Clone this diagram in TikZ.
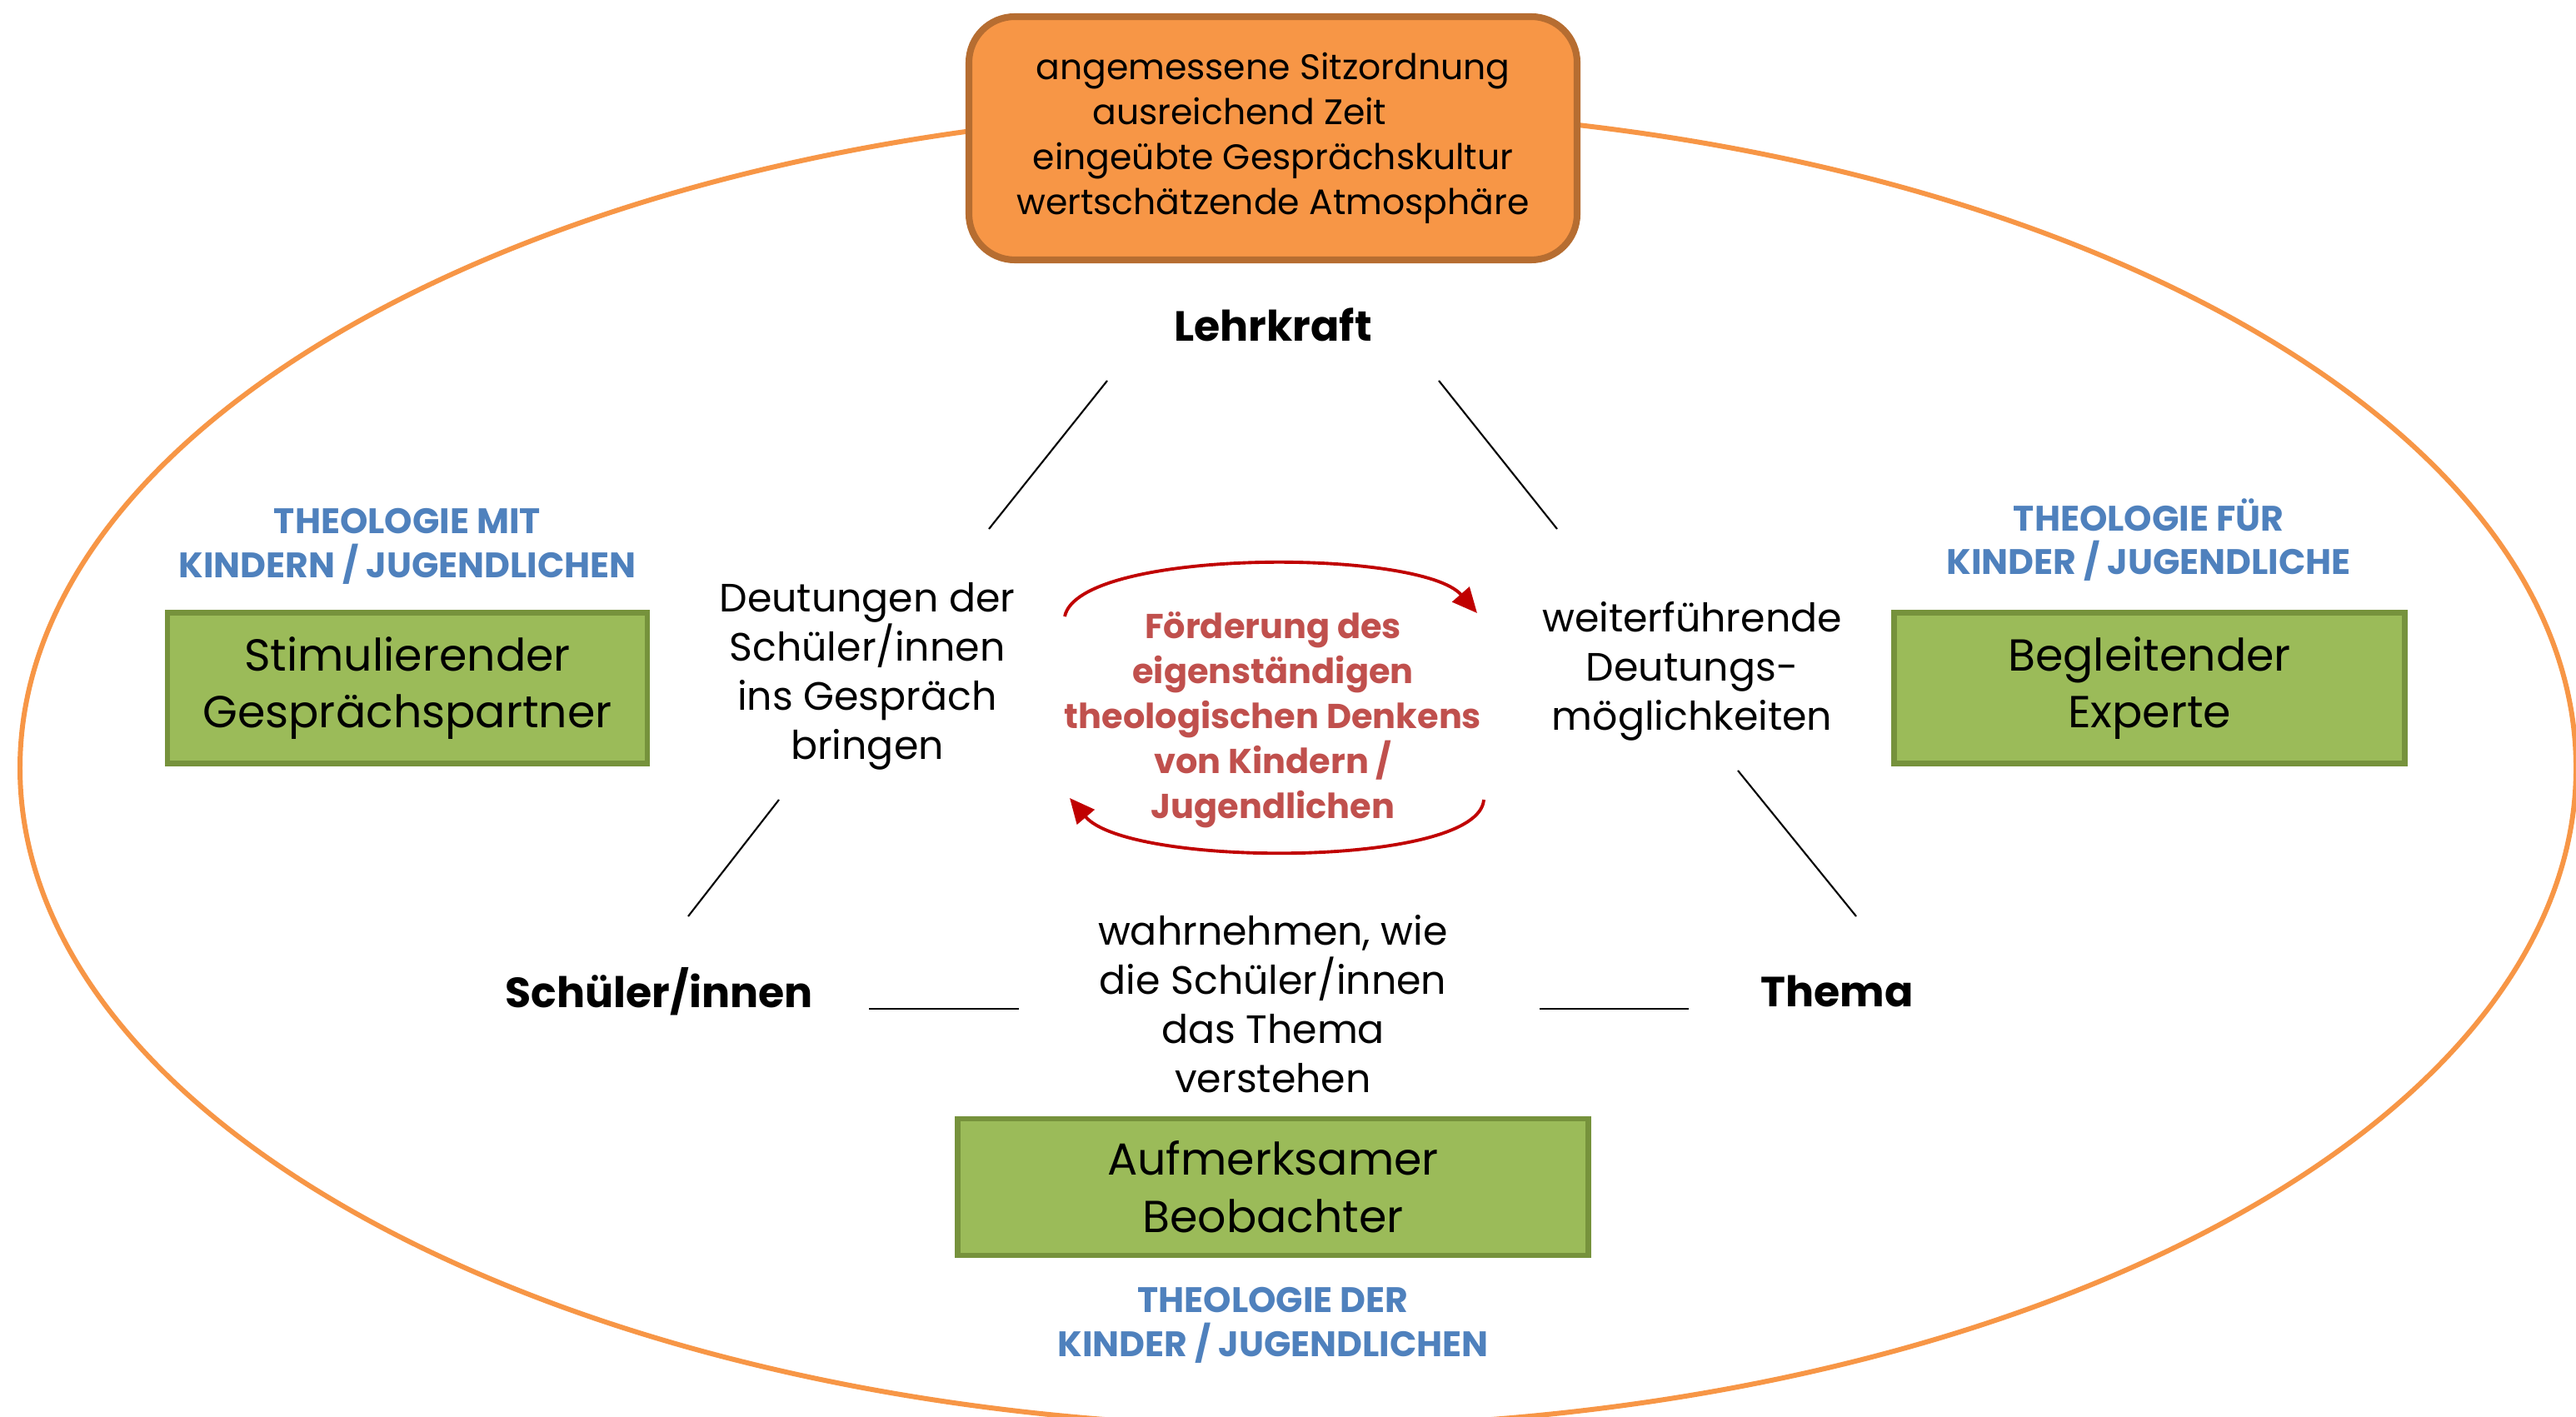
\documentclass[tikz,border=0pt]{standalone}
\usepackage{fontspec}
\setmainfont{Poppins}
\usepackage{tikz}
\usetikzlibrary{arrows.meta, positioning, calc}
\definecolor{ringorange}{HTML}{F79646}
\definecolor{boxorange}{HTML}{F79646}
\definecolor{boxbrown}{HTML}{B66D31}
\definecolor{leafgreen}{HTML}{9BBB59}
\definecolor{mossgreen}{HTML}{76923C}
\definecolor{labelblue}{HTML}{4F81BD}
\definecolor{focusred}{HTML}{C0504D}
\definecolor{loopred}{HTML}{C00000}
\tikzset{
  link/.style={line width=0.6pt, black},
  looparr/.style={-{Triangle[length=0.3cm, width=0.27cm]}, line width=1.1pt, loopred},
  frame/.style={rectangle, rounded corners=0.55cm, draw=boxbrown, fill=boxorange, line width=2.3pt, align=center, text=black},
  rolebox/.style={rectangle, draw=mossgreen, fill=leafgreen, line width=1.8pt, align=center, text=black, font=\fontsize{15.3}{19.6}\selectfont},
}

\begin{document}
\begin{tikzpicture}[x=1cm, y=1cm,
    pole/.style={font=\fontsize{14.4}{18}\selectfont\bfseries, text=black},
    gloss/.style={align=center, font=\fontsize{13.5}{16.8}\selectfont, text=black},
    field/.style={align=center, font=\fontsize{12.1}{15}\selectfont\bfseries, text=labelblue},
    aim/.style={align=center, font=\fontsize{11.8}{15.4}\selectfont\bfseries, text=focusred}]
  \useasboundingbox (0,0) rectangle (30.92,17);

  % Outer ring
  \draw[ringorange, line width=1.7pt] (15.58,7.78) ellipse [x radius=15.34, y radius=7.91];

  % Frame conditions
  \node[frame, minimum width=7.3cm, minimum height=2.92cm, font=\fontsize{12.1}{15.4}\selectfont] (FR) at (15.28,15.34)
    {angemessene Sitzordnung\\ausreichend Zeit\rule{0.8cm}{0pt}\\eingeübte Gesprächskultur\\wertschätzende Atmosphäre};

  % Triangle corners
  \node[pole] (LK) at (15.28,13.10) {Lehrkraft};
  \node[pole] (SI) at (7.91,5.10) {Schüler/innen};
  \node[pole] (TH) at (22.05,5.10) {Thema};

  % Side texts
  \node[gloss] (DS) at (10.41,8.88) {Deutungen der\\Schüler/innen\\ins Gespräch\\bringen};
  \node[gloss] (WD) at (20.31,8.94) {weiterführende\\Deutungs-\\möglichkeiten};
  \node[gloss] (WS) at (15.28,4.95) {wahrnehmen, wie\\die Schüler/innen\\das Thema\\verstehen};

  % Centre
  \node[aim] (FD) at (15.28,8.36) {Förderung des\\eigenständigen\\theologischen Denkens\\von Kindern /\\Jugendlichen};
  \coordinate (ta) at (12.78,9.60);
  \coordinate (tb) at (17.73,9.64);
  \coordinate (ba) at (17.81,7.40);
  \coordinate (bb) at (12.84,7.42);
  \draw[looparr] (ta) .. controls (12.95,10.42) and (17.05,10.42) .. (tb);
  \draw[looparr] (ba) .. controls (17.75,6.58) and (13.55,6.58) .. (bb);

  % Triangle sides
  \coordinate (l1a) at (13.29,12.43);
  \coordinate (l1b) at (11.87,10.65);
  \coordinate (l2a) at (17.27,12.43);
  \coordinate (l2b) at (18.69,10.65);
  \coordinate (l3a) at (9.35,7.40);
  \coordinate (l3b) at (8.26,6.00);
  \coordinate (l4a) at (20.86,7.75);
  \coordinate (l4b) at (22.28,6.00);
  \coordinate (l5a) at (10.43,4.89);
  \coordinate (l5b) at (12.23,4.89);
  \coordinate (l6a) at (18.48,4.89);
  \coordinate (l6b) at (20.27,4.89);
  \draw[link] (l1a) -- (l1b);
  \draw[link] (l2a) -- (l2b);
  \draw[link] (l3a) -- (l3b);
  \draw[link] (l4a) -- (l4b);
  \draw[link] (l5a) -- (l5b);
  \draw[link] (l6a) -- (l6b);

  % Roles
  \node[rolebox, minimum width=5.76cm, minimum height=1.81cm] (RS) at (4.89,8.74) {Stimulierender\\Gesprächspartner};
  \node[rolebox, minimum width=6.13cm, minimum height=1.81cm] (RB) at (25.80,8.74) {Begleitender\\Experte};
  \node[rolebox, minimum width=7.57cm, minimum height=1.64cm] (RA) at (15.28,2.75) {Aufmerksamer\\Beobachter};
  \node[field] (TM) at (4.89,10.44) {THEOLOGIE MIT\\KINDERN / JUGENDLICHEN};
  \node[field] (TF) at (25.79,10.52) {THEOLOGIE FÜR\\KINDER / JUGENDLICHE};
  \node[field] (TD) at (15.28,1.09) {THEOLOGIE DER\\KINDER / JUGENDLICHEN};
\end{tikzpicture}
\end{document}
